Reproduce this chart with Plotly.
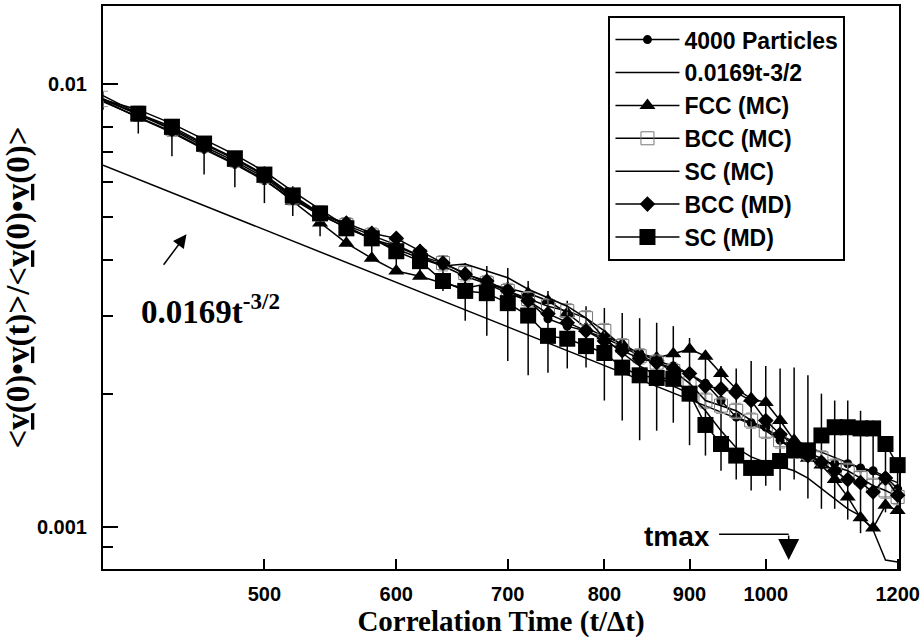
import plotly.graph_objects as go

# correlation time (t / delta t)
t_steps = [400, 420, 440, 460, 480, 500, 520, 540, 560, 580,
           600, 620, 640, 660, 680, 700, 720, 740, 760, 780,
           800, 820, 840, 860, 880, 900, 920, 940, 960, 980,
           1000, 1020, 1040, 1060, 1080, 1100, 1120, 1140, 1160, 1180, 1200]

particles_4000 = [0.00916, 0.00839, 0.00776, 0.00711, 0.00658, 0.00605, 0.00549, 0.00505, 0.00475, 0.00446,
                  0.00430, 0.00409, 0.00388, 0.00368, 0.00354, 0.00337, 0.00324, 0.00295, 0.00284, 0.00277,
                  0.00267, 0.00256, 0.00247, 0.00237, 0.00231, 0.00222, 0.00211, 0.00193, 0.00177, 0.00172,
                  0.00168, 0.00157, 0.00151, 0.00145, 0.00141, 0.00139, 0.00139, 0.00136, 0.00134, 0.00130, 0.00122]
particles_hi = [0.00959, 0.00888, 0.00830, 0.00760, 0.00703, 0.00651, 0.00587, 0.00529, 0.00503, 0.00477,
                0.00453, 0.00435, 0.00409, 0.00394, 0.00388, 0.00384, 0.00359, 0.00341, 0.00324, 0.00315,
                0.00312, 0.00304, 0.00296, 0.00289, 0.00284, 0.00267, 0.00250, 0.00231, 0.00228, 0.00237,
                0.00231, 0.00228, 0.00229, 0.00220, 0.00200, 0.00193, 0.00193, 0.00183, 0.00174, 0.00157, 0.00141]
particles_lo = [0.00874, 0.00772, 0.00686, 0.00624, 0.00584, 0.00538, 0.00503, 0.00453, 0.00430, 0.00409,
                0.00388, 0.00368, 0.00341, 0.00292, 0.00270, 0.00237, 0.00220, 0.00223, 0.00228, 0.00229,
                0.00193, 0.00174, 0.00157, 0.00165, 0.00172, 0.00153, 0.00145, 0.00134, 0.00128, 0.00121,
                0.00124, 0.00121, 0.00128, 0.00116, 0.00110, 0.00110, 0.00104, 0.000969, 0.000995, 0.00108, 0.00109]

power_t = [400, 1200]
power_law = [0.00655, 0.00126]

fcc_mc = [0.00911, 0.00843, 0.00780, 0.00715, 0.00661, 0.00609, 0.00543, 0.00485, 0.00437, 0.00404,
          0.00378, 0.00368, 0.00355, 0.00346, 0.00354, 0.00346, 0.00337, 0.00324, 0.00304, 0.00281,
          0.00270, 0.00259, 0.00246, 0.00241, 0.00246, 0.00252, 0.00243, 0.00222, 0.00205, 0.00195,
          0.00191, 0.00174, 0.00157, 0.00143, 0.00138, 0.00128, 0.00117, 0.00105, 0.000995, 0.00112, 0.00109]

bcc_mc = [0.00925, 0.00856, 0.00792, 0.00730, 0.00675, 0.00621, 0.00555, 0.00510, 0.00480, 0.00455,
          0.00433, 0.00409, 0.00394, 0.00374, 0.00355, 0.00341, 0.00327, 0.00315, 0.00307, 0.00296,
          0.00277, 0.00256, 0.00243, 0.00235, 0.00225, 0.00211, 0.00193, 0.00188, 0.00183, 0.00174,
          0.00165, 0.00157, 0.00149, 0.00147, 0.00143, 0.00137, 0.00134, 0.00129, 0.00124, 0.00121, 0.00117]

sc_mc = [0.00920, 0.00874, 0.00813, 0.00748, 0.00692, 0.00634, 0.00572, 0.00521, 0.00477, 0.00446,
         0.00424, 0.00404, 0.00388, 0.00392, 0.00378, 0.00365, 0.00344, 0.00329, 0.00315, 0.00296,
         0.00267, 0.00247, 0.00231, 0.00220, 0.00208, 0.00200, 0.00183, 0.00165, 0.00151, 0.00144,
         0.00140, 0.00137, 0.00134, 0.00129, 0.00122, 0.00116, 0.00110, 0.00106, 0.000985, 0.000843, 0.000834]

bcc_md = [0.00920, 0.00852, 0.00788, 0.00722, 0.00668, 0.00615, 0.00552, 0.00508, 0.00485, 0.00460,
          0.00448, 0.00419, 0.00394, 0.00372, 0.00359, 0.00341, 0.00324, 0.00303, 0.00289, 0.00277,
          0.00263, 0.00250, 0.00240, 0.00235, 0.00228, 0.00222, 0.00208, 0.00205, 0.00201, 0.00193,
          0.00174, 0.00162, 0.00153, 0.00145, 0.00140, 0.00134, 0.00128, 0.00126, 0.00120, 0.00129, 0.00118]

sc_md = [0.00940, 0.00856, 0.00800, 0.00733, 0.00679, 0.00624, 0.00560, 0.00510, 0.00472, 0.00448,
         0.00419, 0.00398, 0.00359, 0.00341, 0.00337, 0.00320, 0.00300, 0.00270, 0.00266, 0.00256,
         0.00247, 0.00229, 0.00220, 0.00217, 0.00216, 0.00200, 0.00170, 0.00154, 0.00145, 0.00136,
         0.00136, 0.00141, 0.00149, 0.00149, 0.00161, 0.00168, 0.00168, 0.00167, 0.00167, 0.00154, 0.00138]

x_ticks = [500, 600, 700, 800, 900, 1000, 1200]
y_ticks = [0.001, 0.01]
y_minor = [0.0009, 0.002, 0.003, 0.004, 0.005, 0.006, 0.007, 0.008]

SANS = "Liberation Sans"
SERIF = "Liberation Serif"

err_up = [h - v for h, v in zip(particles_hi, particles_4000)]
err_dn = [v - l for v, l in zip(particles_4000, particles_lo)]

fig = go.Figure()
line = dict(color="black", width=1.5)

fig.add_trace(go.Scatter(x=t_steps, y=particles_4000, name="4000 Particles", mode="lines+markers",
                         line=line, marker=dict(symbol="circle", size=9, color="black"),
                         error_y=dict(type="data", array=err_up, arrayminus=err_dn, color="black",
                                      thickness=1.5, width=0),
                         cliponaxis=False))
fig.add_trace(go.Scatter(x=power_t, y=power_law, name="0.0169t-3/2", mode="lines", line=line))
fig.add_trace(go.Scatter(x=t_steps, y=fcc_mc, name="FCC (MC)", mode="lines+markers", line=line,
                         marker=dict(symbol="triangle-up", size=14, color="black"), cliponaxis=False))
fig.add_trace(go.Scatter(x=t_steps, y=bcc_mc, name="BCC (MC)", mode="lines+markers", line=line,
                         marker=dict(symbol="square-open", size=13, color="#777777", line=dict(width=1)),
                         error_y=dict(type="percent", value=4, color="#999999", thickness=1, width=5),
                         cliponaxis=False))
fig.add_trace(go.Scatter(x=t_steps, y=sc_mc, name="SC (MC)", mode="lines", line=line))
fig.add_trace(go.Scatter(x=t_steps, y=bcc_md, name="BCC (MD)", mode="lines+markers", line=line,
                         marker=dict(symbol="diamond", size=12, color="black"), cliponaxis=False))
fig.add_trace(go.Scatter(x=t_steps, y=sc_md, name="SC (MD)", mode="lines+markers", line=line,
                         marker=dict(symbol="square", size=16, color="black"), cliponaxis=False))

fig.update_layout(
    width=924, height=641,
    margin=dict(l=103, r=20, t=4, b=72),
    paper_bgcolor="white", plot_bgcolor="white",
    showlegend=True,
    legend=dict(x=0.635, y=0.982, xanchor="left", yanchor="top",
                bgcolor="white", bordercolor="black", borderwidth=2,
                font=dict(family=SANS, size=23, color="black", weight="bold"),
                itemwidth=64, tracegroupgap=0),
    xaxis=dict(type="log", range=[2.60206, 3.0800],
               tickvals=x_ticks, ticktext=[str(v) for v in x_ticks],
               ticks="inside", ticklen=10, tickwidth=1.5, tickcolor="black",
               showline=True, linecolor="black", linewidth=2, mirror=True,
               showgrid=False, zeroline=False, ticklabelstandoff=6, ticklabeloverflow="allow",
               tickfont=dict(family=SANS, size=20, color="black", weight="bold"),
               title=dict(text="Correlation Time (t/Δt)", standoff=4,
                          font=dict(family=SERIF, size=29, color="black", weight="bold"))),
    yaxis=dict(type="log", range=[-3.0944, -1.8247],
               tickvals=y_ticks, ticktext=["0.001", "0.01"],
               ticks="inside", ticklen=15, tickwidth=1.5, tickcolor="black",
               minor=dict(tickvals=y_minor, ticks="inside", ticklen=10, tickwidth=1.5, tickcolor="black",
                          showgrid=False),
               showline=True, linecolor="black", linewidth=2, mirror=True,
               showgrid=False, zeroline=False, ticklabelstandoff=10,
               tickfont=dict(family=SANS, size=20, color="black", weight="bold"),
               title=dict(text="&lt;<u>v</u>(0)•<u>v</u>(t)&gt;/&lt;<u>v</u>(0)•<u>v</u>(0)&gt;", standoff=6,
                          font=dict(family=SERIF, size=33, color="black", weight="bold"))),
    annotations=[
        dict(xref="paper", yref="paper", x=0.1348, y=0.462, text="0.0169t<sup>-3/2</sup>",
             showarrow=False, xanchor="center", yanchor="middle",
             font=dict(family=SERIF, size=33, color="black", weight="bold")),
        dict(xref="paper", yref="paper", x=0.1049, y=0.5947, text="", showarrow=True,
             ax=-24, ay=32, arrowhead=2, arrowsize=1.8, arrowwidth=1.5, arrowcolor="black"),
        dict(xref="paper", yref="paper", x=0.7216, y=0.0584, text="tmax", showarrow=False,
             xanchor="center", yanchor="middle",
             font=dict(family=SANS, size=28, color="black", weight="bold")),
        dict(xref="paper", yref="paper", x=0.8614, y=0.0159, text="", showarrow=True,
             ax=0, ay=-26, arrowhead=2, arrowsize=2.8, arrowwidth=1.5, arrowcolor="black"),
    ],
    shapes=[
        dict(type="line", xref="paper", yref="paper", x0=0.774, x1=0.8614, y0=0.0619, y1=0.0619,
             line=dict(color="black", width=1.5)),
    ],
)

# the page body has an 8px margin by default; drop it so the figure sits at the window corner
fig.write_html("out.html", config={"displayModeBar": False},
               post_script="document.body.style.margin='0px';")
